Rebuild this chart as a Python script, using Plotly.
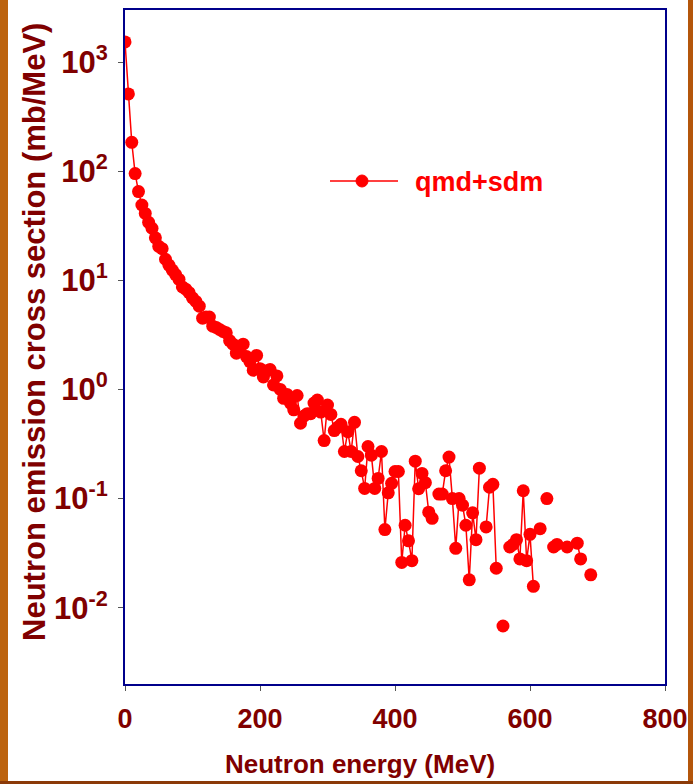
import plotly.graph_objects as go

# Neutron energy bins (MeV) and qmd+sdm emission cross section (mb/MeV); None = empty bin
energy = list(range(0, 695, 5))
xsec = [
    1530, 510, 184, 95, 65, 49, 41, 34, 30, 24.5,          # 0-45
    20.5, 19.5, 15.6, 13.8, 12.4, 11.3, 10.2, 8.7, 8.3, 7.7,  # 50-95
    6.9, 6.4, 5.8, 4.5, 4.6, 4.6, 3.8, 3.7, 3.55, 3.4,     # 100-145
    3.3, 2.8, 2.6, 2.15, 2.4, 2.6, 2.0, 1.8, 1.5, 2.05,    # 150-195
    1.55, 1.3, 1.48, 1.52, 1.1, 1.33, 1.0, 0.83, 0.9, 0.75,  # 200-245
    0.65, 0.88, 0.49, 0.57, 0.6, 0.6, 0.75, 0.8, 0.62, 0.34,  # 250-295
    0.72, 0.59, 0.42, 0.45, 0.48, 0.27, 0.41, 0.27, 0.5, 0.243,  # 300-345
    0.18, 0.124, 0.30, 0.25, 0.124, 0.153, 0.27, 0.052, 0.113, 0.138,  # 350-395
    0.177, 0.177, 0.026, 0.057, 0.041, 0.027, 0.22, 0.123, 0.17, 0.14,  # 400-445
    0.075, 0.066, None, 0.11, 0.11, 0.18, 0.24, 0.1, 0.035, 0.1,  # 450-495
    0.087, 0.057, 0.018, 0.074, 0.042, 0.19, None, 0.055, 0.127, 0.135,  # 500-545
    0.023, None, 0.0068, None, 0.036, 0.038, 0.042, 0.028, 0.118, 0.027,  # 550-595
    0.047, 0.0157, None, 0.053, None, 0.1, None, 0.036, 0.038, None,  # 600-645
    None, 0.036, None, None, 0.039, 0.028, None, None, 0.02,  # 650-690
]

x_ticks = [0, 200, 400, 600, 800]
y_ticks = [0.01, 0.1, 1, 10, 100, 1000]
y_ticktext = ["10<sup>-2</sup>", "10<sup>-1</sup>", "10<sup>0</sup>",
              "10<sup>1</sup>", "10<sup>2</sup>", "10<sup>3</sup>"]

MAROON = "#800000"
RED = "#FF0000"
NAVY = "#00008B"
FONT = "Liberation Sans"

W, H = 693, 784
L, R, T, B = 125, 28, 10, 100
PW, PH = W - L - R, H - T - B


def px_x(p):
    return (p - L) / PW


def px_y(p):
    return (H - B - p) / PH


fig = go.Figure()
fig.add_trace(go.Scatter(
    x=energy, y=xsec, mode="lines+markers", name="qmd+sdm",
    line=dict(color=RED, width=1.5),
    marker=dict(color=RED, size=13),
    connectgaps=False, showlegend=False,
))

shapes = [
    # slide frame: orange strips at the sides, brown rule at the bottom
    dict(type="rect", xref="paper", yref="paper", x0=px_x(0), x1=px_x(8),
         y0=px_y(784), y1=px_y(0), fillcolor="#BC630E", line_width=0, layer="below"),
    dict(type="rect", xref="paper", yref="paper", x0=px_x(688), x1=px_x(693),
         y0=px_y(784), y1=px_y(0), fillcolor="#B4560B", line_width=0, layer="below"),
    dict(type="rect", xref="paper", yref="paper", x0=px_x(0), x1=px_x(693),
         y0=px_y(784), y1=px_y(781), fillcolor="#8B3A08", line_width=0, layer="below"),
    # legend glyph
    dict(type="line", xref="paper", yref="paper", x0=px_x(330), x1=px_x(398),
         y0=px_y(181), y1=px_y(181), line=dict(color=RED, width=1.5)),
    dict(type="circle", xref="paper", yref="paper", x0=px_x(356), x1=px_x(368),
         y0=px_y(187), y1=px_y(175), fillcolor=RED, line=dict(color=RED, width=1)),
]

annotations = [
    dict(text="qmd+sdm", xref="paper", yref="paper", x=px_x(413), y=px_y(182),
         xanchor="left", yanchor="middle", showarrow=False,
         font=dict(family=FONT, size=27, color=RED, weight="bold")),
    dict(text="Neutron energy (MeV)", xref="paper", yref="paper", x=px_x(360), y=px_y(764),
         xanchor="center", yanchor="middle", showarrow=False,
         font=dict(family=FONT, size=26, color=MAROON, weight="bold")),
    dict(text="Neutron emission cross section (mb/MeV)", xref="paper", yref="paper",
         x=px_x(35), y=px_y(332), xanchor="center", yanchor="middle", textangle=-90,
         showarrow=False, font=dict(family=FONT, size=31, color=MAROON, weight="bold")),
]

fig.update_layout(
    width=W, height=H, autosize=False,
    margin=dict(l=L, r=R, t=T, b=B, pad=0, autoexpand=False),
    paper_bgcolor="white", plot_bgcolor="white",
    shapes=shapes, annotations=annotations,
    showlegend=False,
)
fig.update_xaxes(
    range=[0, 800], tickvals=x_ticks, ticks="outside", ticklen=5, tickwidth=1,
    tickcolor="#555555", showgrid=False, zeroline=False, automargin=False,
    showline=True, linecolor=NAVY, linewidth=2, mirror=True,
    tickfont=dict(family=FONT, size=27, color=MAROON, weight="bold"),
    ticklabelstandoff=5,
)
fig.update_yaxes(
    type="log", range=[-2.699, 3.477], tickvals=y_ticks, ticktext=y_ticktext,
    ticks="outside", ticklen=5, tickwidth=1, tickcolor="#555555",
    showgrid=False, zeroline=False, automargin=False,
    showline=True, linecolor=NAVY, linewidth=2, mirror=True,
    tickfont=dict(family=FONT, size=31, color=MAROON, weight="bold"),
    ticklabelstandoff=4,
)

fig.write_html("out.html")
